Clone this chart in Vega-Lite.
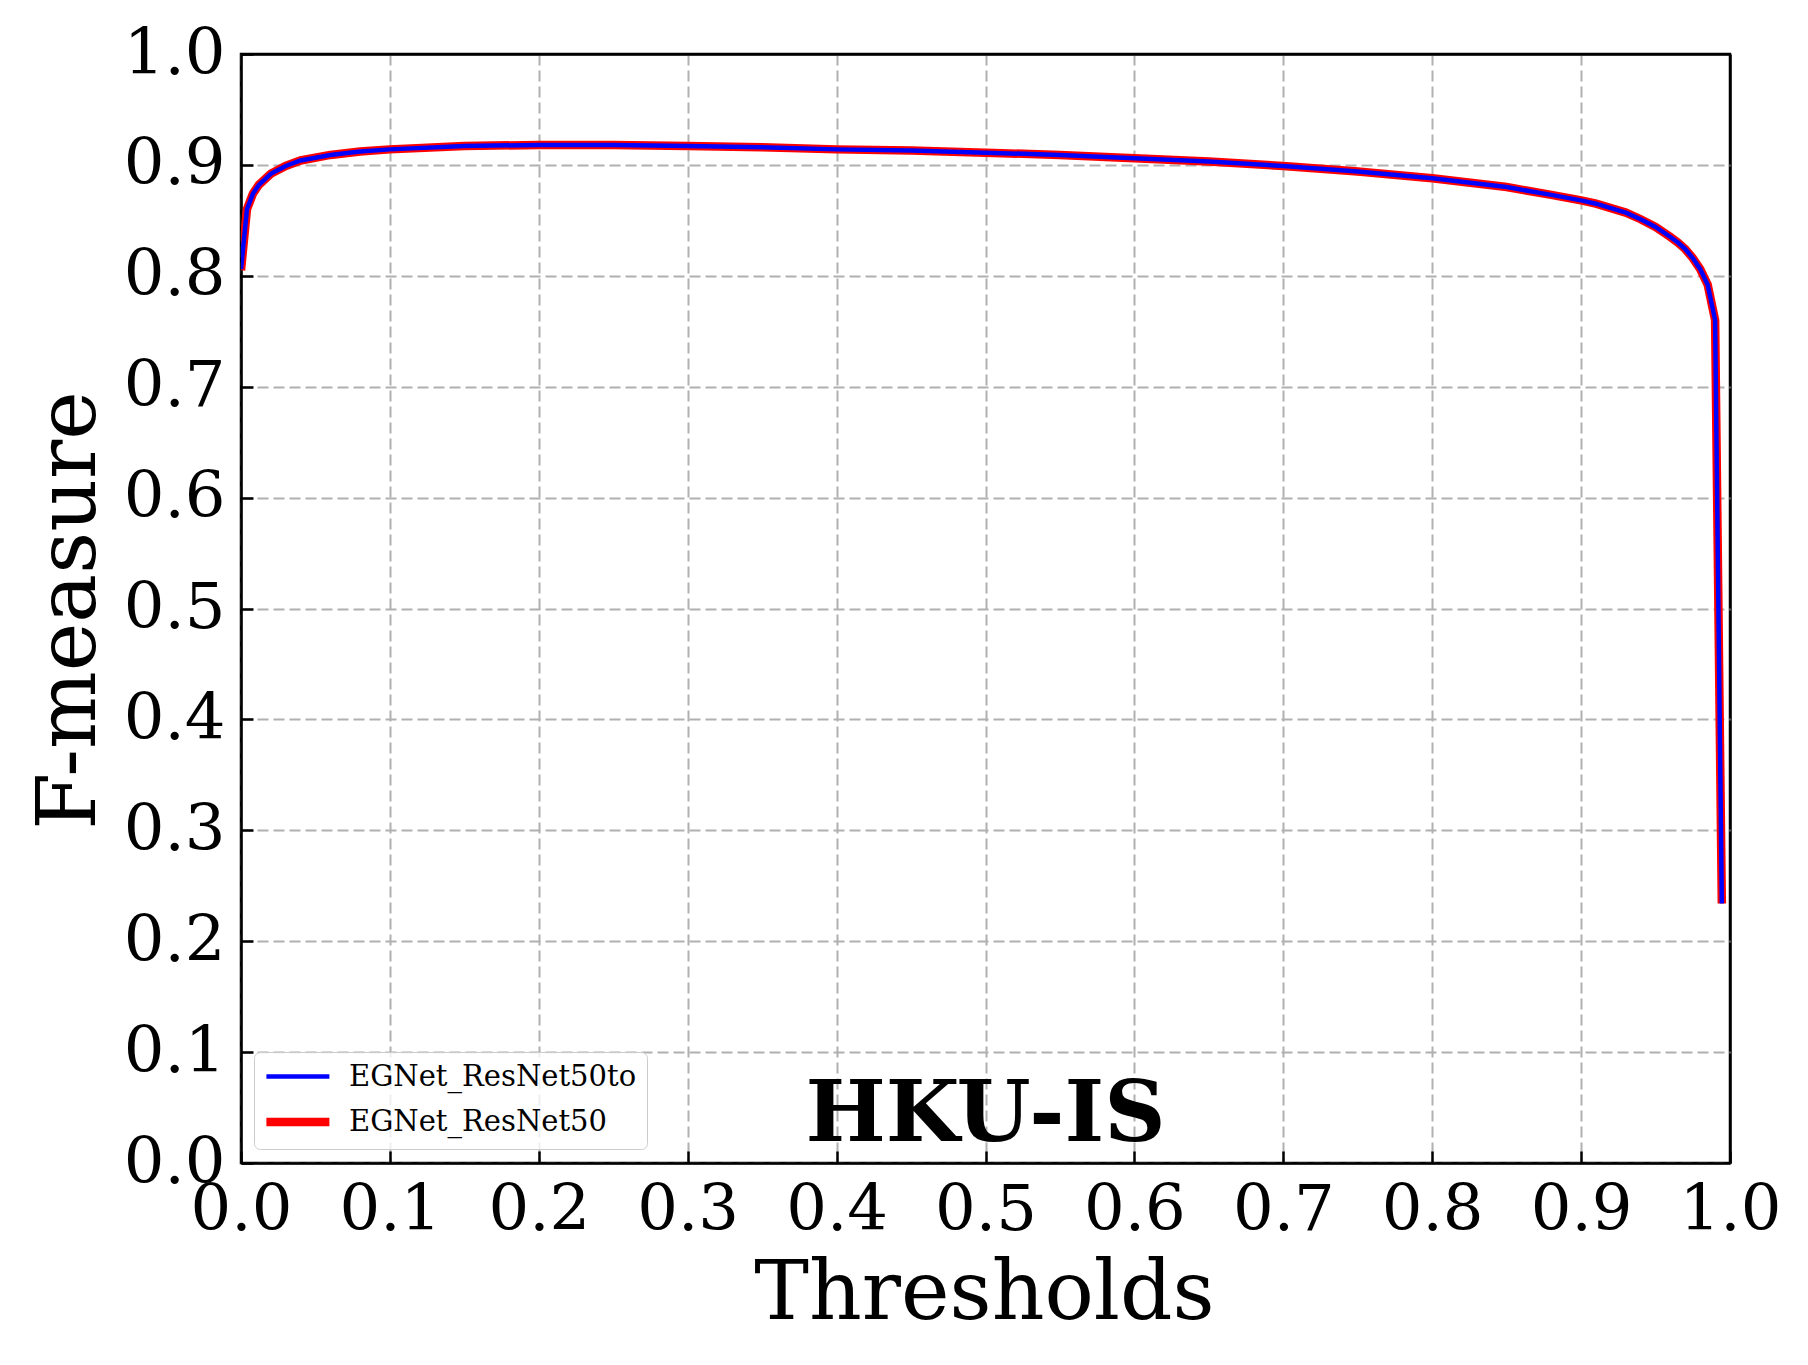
{
  "$schema": "https://vega.github.io/schema/vega-lite/v6.json",
  "autosize": {"type": "none"},
  "padding": {"left": 241, "top": 54, "right": 78, "bottom": 202},
  "width": 1489,
  "height": 1109,
  "background": "white",
  "config": {
    "font": "DejaVu Serif",
    "view": {"stroke": "black", "strokeWidth": 2.5},
    "axis": {
      "labelFont": "DejaVu Serif",
      "titleFont": "DejaVu Serif",
      "labelFontSize": 64,
      "titleFontSize": 82,
      "titleFontWeight": "normal",
      "labelColor": "black",
      "titleColor": "black",
      "domainColor": "black",
      "domainWidth": 2.5,
      "tickColor": "black",
      "tickWidth": 2.5,
      "tickSize": -12,
      "gridColor": {"condition": {"test": "datum.value >= 1", "value": "black"}, "value": "#b0b0b0"},
      "gridWidth": {"condition": {"test": "datum.value >= 1", "value": 2.5}, "value": 2},
      "gridDash": {"condition": {"test": "datum.value >= 1", "value": []}, "value": [11, 5]},
      "labelFlush": false,
      "labelOverlap": false
    }
  },
  "data": {
    "values": [
      {"t": 0.0, "f": 0.805, "s": "EGNet_ResNet50"},
      {"t": 0.004, "f": 0.86, "s": "EGNet_ResNet50"},
      {"t": 0.008, "f": 0.874, "s": "EGNet_ResNet50"},
      {"t": 0.012, "f": 0.882, "s": "EGNet_ResNet50"},
      {"t": 0.02, "f": 0.892, "s": "EGNet_ResNet50"},
      {"t": 0.03, "f": 0.899, "s": "EGNet_ResNet50"},
      {"t": 0.04, "f": 0.904, "s": "EGNet_ResNet50"},
      {"t": 0.06, "f": 0.909, "s": "EGNet_ResNet50"},
      {"t": 0.08, "f": 0.912, "s": "EGNet_ResNet50"},
      {"t": 0.1, "f": 0.914, "s": "EGNet_ResNet50"},
      {"t": 0.15, "f": 0.917, "s": "EGNet_ResNet50"},
      {"t": 0.2, "f": 0.918, "s": "EGNet_ResNet50"},
      {"t": 0.25, "f": 0.918, "s": "EGNet_ResNet50"},
      {"t": 0.3, "f": 0.917, "s": "EGNet_ResNet50"},
      {"t": 0.35, "f": 0.916, "s": "EGNet_ResNet50"},
      {"t": 0.4, "f": 0.914, "s": "EGNet_ResNet50"},
      {"t": 0.45, "f": 0.913, "s": "EGNet_ResNet50"},
      {"t": 0.5, "f": 0.911, "s": "EGNet_ResNet50"},
      {"t": 0.55, "f": 0.909, "s": "EGNet_ResNet50"},
      {"t": 0.6, "f": 0.906, "s": "EGNet_ResNet50"},
      {"t": 0.65, "f": 0.903, "s": "EGNet_ResNet50"},
      {"t": 0.7, "f": 0.899, "s": "EGNet_ResNet50"},
      {"t": 0.75, "f": 0.894, "s": "EGNet_ResNet50"},
      {"t": 0.8, "f": 0.888, "s": "EGNet_ResNet50"},
      {"t": 0.85, "f": 0.88, "s": "EGNet_ResNet50"},
      {"t": 0.88, "f": 0.873, "s": "EGNet_ResNet50"},
      {"t": 0.9, "f": 0.868, "s": "EGNet_ResNet50"},
      {"t": 0.91, "f": 0.865, "s": "EGNet_ResNet50"},
      {"t": 0.92, "f": 0.861, "s": "EGNet_ResNet50"},
      {"t": 0.93, "f": 0.857, "s": "EGNet_ResNet50"},
      {"t": 0.94, "f": 0.851, "s": "EGNet_ResNet50"},
      {"t": 0.95, "f": 0.844, "s": "EGNet_ResNet50"},
      {"t": 0.96, "f": 0.835, "s": "EGNet_ResNet50"},
      {"t": 0.965, "f": 0.83, "s": "EGNet_ResNet50"},
      {"t": 0.97, "f": 0.824, "s": "EGNet_ResNet50"},
      {"t": 0.975, "f": 0.816, "s": "EGNet_ResNet50"},
      {"t": 0.98, "f": 0.806, "s": "EGNet_ResNet50"},
      {"t": 0.985, "f": 0.792, "s": "EGNet_ResNet50"},
      {"t": 0.99, "f": 0.76, "s": "EGNet_ResNet50"},
      {"t": 0.9945, "f": 0.234, "s": "EGNet_ResNet50"},
      {"t": 0.0, "f": 0.806, "s": "EGNet_ResNet50to"},
      {"t": 0.004, "f": 0.86, "s": "EGNet_ResNet50to"},
      {"t": 0.008, "f": 0.874, "s": "EGNet_ResNet50to"},
      {"t": 0.012, "f": 0.882, "s": "EGNet_ResNet50to"},
      {"t": 0.02, "f": 0.892, "s": "EGNet_ResNet50to"},
      {"t": 0.03, "f": 0.899, "s": "EGNet_ResNet50to"},
      {"t": 0.04, "f": 0.904, "s": "EGNet_ResNet50to"},
      {"t": 0.06, "f": 0.909, "s": "EGNet_ResNet50to"},
      {"t": 0.08, "f": 0.912, "s": "EGNet_ResNet50to"},
      {"t": 0.1, "f": 0.914, "s": "EGNet_ResNet50to"},
      {"t": 0.15, "f": 0.917, "s": "EGNet_ResNet50to"},
      {"t": 0.2, "f": 0.918, "s": "EGNet_ResNet50to"},
      {"t": 0.25, "f": 0.918, "s": "EGNet_ResNet50to"},
      {"t": 0.3, "f": 0.917, "s": "EGNet_ResNet50to"},
      {"t": 0.35, "f": 0.916, "s": "EGNet_ResNet50to"},
      {"t": 0.4, "f": 0.914, "s": "EGNet_ResNet50to"},
      {"t": 0.45, "f": 0.913, "s": "EGNet_ResNet50to"},
      {"t": 0.5, "f": 0.911, "s": "EGNet_ResNet50to"},
      {"t": 0.55, "f": 0.909, "s": "EGNet_ResNet50to"},
      {"t": 0.6, "f": 0.906, "s": "EGNet_ResNet50to"},
      {"t": 0.65, "f": 0.903, "s": "EGNet_ResNet50to"},
      {"t": 0.7, "f": 0.899, "s": "EGNet_ResNet50to"},
      {"t": 0.75, "f": 0.894, "s": "EGNet_ResNet50to"},
      {"t": 0.8, "f": 0.888, "s": "EGNet_ResNet50to"},
      {"t": 0.85, "f": 0.88, "s": "EGNet_ResNet50to"},
      {"t": 0.88, "f": 0.873, "s": "EGNet_ResNet50to"},
      {"t": 0.9, "f": 0.868, "s": "EGNet_ResNet50to"},
      {"t": 0.91, "f": 0.865, "s": "EGNet_ResNet50to"},
      {"t": 0.92, "f": 0.861, "s": "EGNet_ResNet50to"},
      {"t": 0.93, "f": 0.857, "s": "EGNet_ResNet50to"},
      {"t": 0.94, "f": 0.851, "s": "EGNet_ResNet50to"},
      {"t": 0.95, "f": 0.844, "s": "EGNet_ResNet50to"},
      {"t": 0.96, "f": 0.835, "s": "EGNet_ResNet50to"},
      {"t": 0.965, "f": 0.83, "s": "EGNet_ResNet50to"},
      {"t": 0.97, "f": 0.824, "s": "EGNet_ResNet50to"},
      {"t": 0.975, "f": 0.816, "s": "EGNet_ResNet50to"},
      {"t": 0.98, "f": 0.806, "s": "EGNet_ResNet50to"},
      {"t": 0.985, "f": 0.792, "s": "EGNet_ResNet50to"},
      {"t": 0.99, "f": 0.76, "s": "EGNet_ResNet50to"},
      {"t": 0.9945, "f": 0.234, "s": "EGNet_ResNet50to"}
    ]
  },
  "layer": [
    {
      "mark": {"type": "line", "clip": true},
      "encoding": {
        "x": {
          "field": "t", "type": "quantitative",
          "scale": {"domain": [0, 1], "nice": false, "zero": false},
          "axis": {
            "title": "Thresholds",
            "values": [0, 0.1, 0.2, 0.3, 0.4, 0.5, 0.6, 0.7, 0.8, 0.9, 1.0],
            "format": ".1f",
            "labelPadding": 27,
            "titleX": 743,
            "titleY": 155,
            "titleBaseline": "alphabetic"
          }
        },
        "y": {
          "field": "f", "type": "quantitative",
          "scale": {"domain": [0, 1], "nice": false, "zero": false},
          "axis": {
            "title": "F-measure",
            "values": [0, 0.1, 0.2, 0.3, 0.4, 0.5, 0.6, 0.7, 0.8, 0.9, 1.0],
            "format": ".1f",
            "labelPadding": 28,
            "titleAngle": 270,
            "titleX": -172,
            "titleY": 556,
            "titleAlign": "center",
            "titleBaseline": "middle"
          }
        },
        "color": {
          "field": "s", "type": "nominal",
          "scale": {"domain": ["EGNet_ResNet50to", "EGNet_ResNet50"], "range": ["#0000ff", "#ff0000"]},
          "legend": {
            "title": null,
            "orient": "none",
            "legendX": 13,
            "legendY": 998,
            "symbolType": "M-1.2,0H4.8",
            "symbolSize": 441,
            "labelFont": "DejaVu Serif",
            "labelFontSize": 29,
            "labelLimit": 0,
            "labelColor": "black",
            "labelOffset": 55,
            "rowPadding": 13,
            "padding": 10,
            "fillColor": "rgba(255,255,255,0.8)",
            "strokeColor": "#cccccc",
            "cornerRadius": 6
          }
        },
        "strokeWidth": {
          "field": "s", "type": "nominal",
          "scale": {"domain": ["EGNet_ResNet50to", "EGNet_ResNet50"], "range": [4.5, 8.5]},
          "legend": null
        }
      }
    },
    {
      "data": {"values": [{"t": 0.5, "f": 0.02, "label": "HKU-IS"}]},
      "mark": {"type": "text", "font": "DejaVu Serif", "fontSize": 85, "fontWeight": "bold", "align": "center", "baseline": "alphabetic", "color": "black"},
      "encoding": {
        "x": {"field": "t", "type": "quantitative"},
        "y": {"field": "f", "type": "quantitative"},
        "text": {"field": "label"}
      }
    }
  ]
}
